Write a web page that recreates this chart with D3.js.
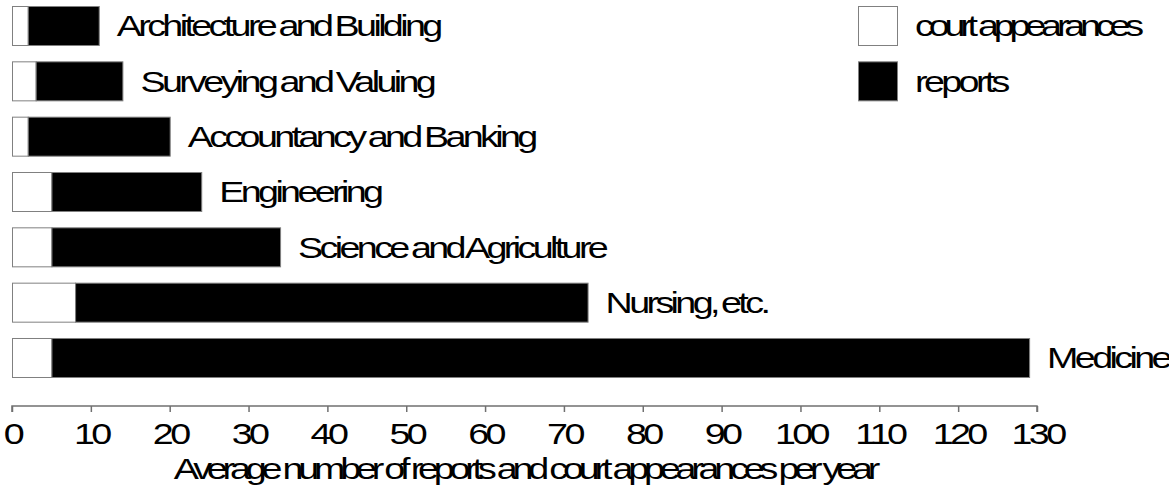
<!DOCTYPE html>
<html>
<head>
<meta charset="utf-8">
<script src="https://cdn.jsdelivr.net/npm/d3@7"></script>
<style>
  html, body { margin: 0; padding: 0; background: #fff; }
  svg { display: block; }
  text { font-family: "Liberation Sans", Arial, sans-serif; fill: #000; }
</style>
</head>
<body>
<svg id="chart" width="1169" height="495"></svg>
<script>
const categories = ["Architecture and Building", "Surveying and Valuing", "Accountancy and Banking", "Engineering", "Science and Agriculture", "Nursing, etc.", "Medicine"];
const courtAppearances = [2, 3, 2, 5, 5, 8, 5];
const reports = [9, 11, 18, 19, 29, 65, 124];
const seriesNames = ["court appearances", "reports"];
const seriesColors = ["#ffffff", "#000000"];
const xTicks = [0, 10, 20, 30, 40, 50, 60, 70, 80, 90, 100, 110, 120, 130];
const xTitle = "Average number of reports and court appearances per year";

const svg = d3.select("#chart");
const fontSize = 29;
const stretch = 1.3;
const ls = -2.8;
const ws = -2;

function styleText(sel, letter = ls, word = ws) {
  return sel.attr("font-size", fontSize)
    .attr("letter-spacing", letter)
    .attr("word-spacing", word);
}

const x = d3.scaleLinear().domain([0, 130]).range([12, 1037]);
const y = d3.scaleBand().domain(categories).range([6, 378]).paddingInner(0.277).paddingOuter(0);

const rows = categories.map((c, i) => ({ cat: c, court: courtAppearances[i], rep: reports[i] }));

const g = svg.append("g");
// court appearances (white)
g.selectAll("rect.court").data(rows).join("rect")
  .attr("class", "court")
  .attr("x", d => x(0) + 0.5)
  .attr("y", d => y(d.cat) + 0.5)
  .attr("width", d => x(d.court) - x(0))
  .attr("height", y.bandwidth() - 1)
  .attr("fill", seriesColors[0])
  .attr("stroke", "#808080").attr("stroke-width", 1);
// reports (black)
g.selectAll("rect.rep").data(rows).join("rect")
  .attr("class", "rep")
  .attr("x", d => x(d.court) + 0.5)
  .attr("y", d => y(d.cat) + 0.5)
  .attr("width", d => x(d.court + d.rep) - x(d.court))
  .attr("height", y.bandwidth() - 1)
  .attr("fill", seriesColors[1])
  .attr("stroke", "#808080").attr("stroke-width", 1);

// category labels
g.selectAll("text.lab").data(rows).join("text")
  .attr("class", "lab")
  .attr("transform", d => `translate(${x(d.court + d.rep) + 18},${y(d.cat) + y.bandwidth() / 2}) scale(${stretch},1)`)
  .attr("dy", "0.36em")
  .call(styleText)
  .text(d => d.cat);

// axis
const axisG = svg.append("g").attr("transform", "translate(0,406)");
const axis = d3.axisBottom(x).tickValues(xTicks).tickSize(6).tickPadding(11.5).tickFormat(d3.format("d"));
axisG.call(axis);
axisG.select(".domain").attr("stroke", "#707070").attr("stroke-width", 1.5).attr("d", `M${x(0)},6V0H${x(130)}V6`);
axisG.selectAll(".tick line").attr("stroke", "#707070").attr("stroke-width", 1.5);
axisG.selectAll(".tick text")
  .attr("font-family", "Liberation Sans, Arial, sans-serif")
  .attr("fill", "#000")
  .attr("transform", `scale(${stretch},1)`)
  .call(styleText);

// axis title
svg.append("text")
  .attr("transform", `translate(${(x(0) + x(130)) / 2},479) scale(${stretch},1)`)
  .attr("text-anchor", "middle")
  .call(styleText, -4, 0)
  .text(xTitle);

// legend
const legend = svg.append("g");
seriesNames.forEach((name, i) => {
  const cy = y(categories[i]);
  legend.append("rect")
    .attr("x", 858.5).attr("y", cy + 0.5)
    .attr("width", 39).attr("height", y.bandwidth() - 1)
    .attr("fill", seriesColors[i])
    .attr("stroke", "#808080").attr("stroke-width", 1);
  legend.append("text")
    .attr("transform", `translate(915,${cy + y.bandwidth() / 2}) scale(${stretch},1)`)
    .attr("dy", "0.36em")
    .call(styleText, i === 0 ? -4 : ls, 0)
    .text(name);
});
</script>
</body>
</html>
